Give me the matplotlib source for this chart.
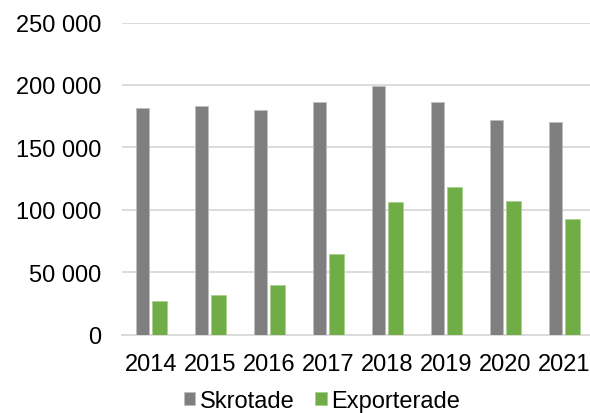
import numpy as np
import matplotlib.pyplot as plt

# data
years = ['2014', '2015', '2016', '2017', '2018', '2019', '2020', '2021']
skrotade = [181700, 183100, 180100, 186100, 198900, 186300, 171900, 170000]
exporterade = [26800, 31900, 39900, 64800, 105900, 117900, 106700, 92500]
yticks = [0, 50000, 100000, 150000, 200000, 250000]

plt.rcParams['font.family'] = ['Liberation Sans', 'DejaVu Sans']

fig = plt.figure(figsize=(5.9, 4.14), dpi=100)
# axes run slightly past the right edge, like the cropped reference
ax = fig.add_axes([122 / 590, (414 - 335.5) / 414, 472 / 590, 312 / 414])

x = np.arange(len(years))
ax.bar(x - 0.145, skrotade, width=0.22, color='#7f7f7f',
       edgecolor='#bfbfbf', linewidth=0.6, label='Skrotade', zorder=3)
ax.bar(x + 0.14, exporterade, width=0.25, color='#70ad47',
       edgecolor='#a9d18e', linewidth=0.6, label='Exporterade', zorder=3)

ax.set_xlim(-0.5, len(years) - 0.5)
ax.set_ylim(0, 250000)
ax.set_yticks(yticks)
ax.set_yticklabels([f'{v:,}'.replace(',', ' ') for v in yticks])
ax.set_xticks(x)
ax.set_xticklabels(years)

ax.grid(axis='y', color='#d9d9d9', linewidth=1.3, zorder=0)
for side in ['top', 'right', 'left']:
    ax.spines[side].set_visible(False)
ax.spines['bottom'].set_color('#d9d9d9')
ax.spines['bottom'].set_linewidth(1.3)
ax.tick_params(axis='both', length=0, labelsize=17, colors='black')
ax.tick_params(axis='y', pad=15)
ax.tick_params(axis='x', pad=13)

fig.legend(loc='center', bbox_to_anchor=(322 / 590, 1 - 402 / 414),
           ncol=2, frameon=False, fontsize=17, handlelength=0.5,
           handleheight=0.5, handletextpad=0.2, columnspacing=0.85,
           borderpad=0)

fig.savefig('out.png', dpi=100)
